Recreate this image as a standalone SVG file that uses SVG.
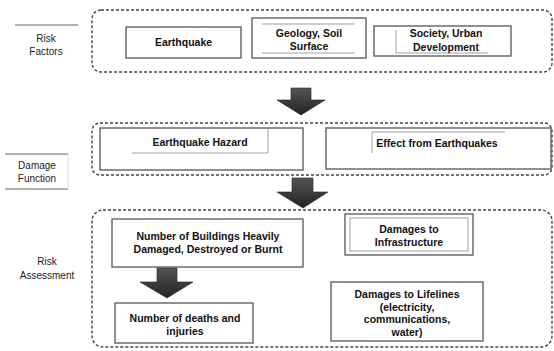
<svg xmlns="http://www.w3.org/2000/svg" width="554" height="351" viewBox="0 0 554 351">
<defs>
<style>
.grp{fill:none;stroke:#444;stroke-width:1.4;stroke-dasharray:3 2}
.box{fill:#fff;stroke:#555;stroke-width:1.3}
.thin{fill:none;stroke:#888;stroke-width:0.8}
.t{font-family:"Liberation Sans",Arial,sans-serif;font-weight:bold;font-size:10.5px;fill:#111;text-anchor:middle}
.lbl{font-family:"Liberation Sans",Arial,sans-serif;font-size:10px;fill:#222;text-anchor:middle}
.lline{stroke:#666;stroke-width:1.2}
.arr{fill:url(#ag);stroke:#222;stroke-width:0.6}
</style>
<linearGradient id="ag" x1="0" y1="0" x2="0" y2="1">
<stop offset="0" stop-color="#555"/>
<stop offset="1" stop-color="#222"/>
</linearGradient>
</defs>
<rect width="554" height="351" fill="#fff"/>

<g id="label-risk-factors">
<line class="lline" x1="15" y1="25" x2="78" y2="25"/>
<text class="lbl" x="46" y="42">Risk</text>
<text class="lbl" x="46" y="55">Factors</text>
</g>
<g id="label-damage-function">
<line class="lline" x1="5" y1="154" x2="68" y2="154"/>
<line class="lline" x1="5" y1="189" x2="68" y2="189"/>
<line x1="68" y1="154" x2="68" y2="189" stroke="#ddd" stroke-width="1"/>
<text class="lbl" x="37" y="169">Damage</text>
<text class="lbl" x="37" y="182">Function</text>
</g>
<g id="label-risk-assessment">
<text class="lbl" x="47" y="265">Risk</text>
<text class="lbl" x="47" y="279">Assessment</text>
</g>

<g id="group-risk-factors"><rect class="grp" x="92" y="10" width="460" height="62" rx="9"/></g>
<g id="group-damage-function"><rect class="grp" x="92" y="123" width="460" height="52" rx="8"/></g>
<g id="group-risk-assessment"><rect class="grp" x="92" y="210" width="460" height="137" rx="11"/></g>

<g id="earthquake">
<rect class="box" x="126" y="27" width="115" height="31"/>
<text class="t" x="183.5" y="46">Earthquake</text>
</g>
<g id="geology">
<rect class="box" x="252" y="18" width="114" height="40"/>
<line class="thin" x1="262" y1="24" x2="355" y2="24"/>
<line class="thin" x1="262" y1="53" x2="355" y2="53"/>
<text class="t" x="309" y="37">Geology, Soil</text>
<text class="t" x="309" y="50">Surface</text>
</g>
<g id="society">
<rect class="box" x="374" y="26" width="137" height="30"/>
<line class="thin" x1="396" y1="30" x2="396" y2="53"/>
<line class="thin" x1="396" y1="53" x2="488" y2="53"/>
<text class="t" x="446" y="37">Society, Urban</text>
<text class="t" x="446" y="51">Development</text>
</g>

<g id="earthquake-hazard">
<rect class="box" x="100" y="128" width="203" height="42"/>
<polyline class="thin" points="132,153 268,153 268,129"/>
<text class="t" x="200" y="146">Earthquake Hazard</text>
</g>
<g id="effect">
<rect class="box" x="326" y="128" width="225" height="41"/>
<polyline class="thin" points="372,153 372,132 505,132"/>
<text class="t" x="437" y="147">Effect from Earthquakes</text>
</g>

<g id="buildings">
<rect class="box" x="112" y="219" width="191" height="48"/>
<text class="t" x="208" y="240">Number of Buildings Heavily</text>
<text class="t" x="208" y="253">Damaged, Destroyed or Burnt</text>
</g>
<g id="infrastructure">
<rect class="box" x="345" y="214" width="128" height="41"/>
<rect class="thin" x="350" y="218" width="118" height="33"/>
<text class="t" x="409" y="233">Damages to</text>
<text class="t" x="409" y="246">Infrastructure</text>
</g>
<g id="deaths">
<rect class="box" x="115" y="303" width="138" height="40"/>
<text class="t" x="185" y="322">Number of deaths and</text>
<text class="t" x="185" y="335">injuries</text>
</g>
<g id="lifelines">
<rect class="box" x="331" y="282" width="152" height="59"/>
<text class="t" x="407" y="298">Damages to Lifelines</text>
<text class="t" x="407" y="310.5">(electricity,</text>
<text class="t" x="407" y="323">communications,</text>
<text class="t" x="407" y="335.5">water)</text>
</g>

<g id="connectors">
<polygon class="arr" points="291,88 311,88 311,100 325,100 301,115 277,100 291,100"/>
<polygon class="arr" points="292,178 313,178 313,192 328,192 303,208 277,192 292,192"/>
<polygon class="arr" points="157,268 177,268 177,282 193,282 167,298 140,282 157,282"/>
</g>
</svg>
